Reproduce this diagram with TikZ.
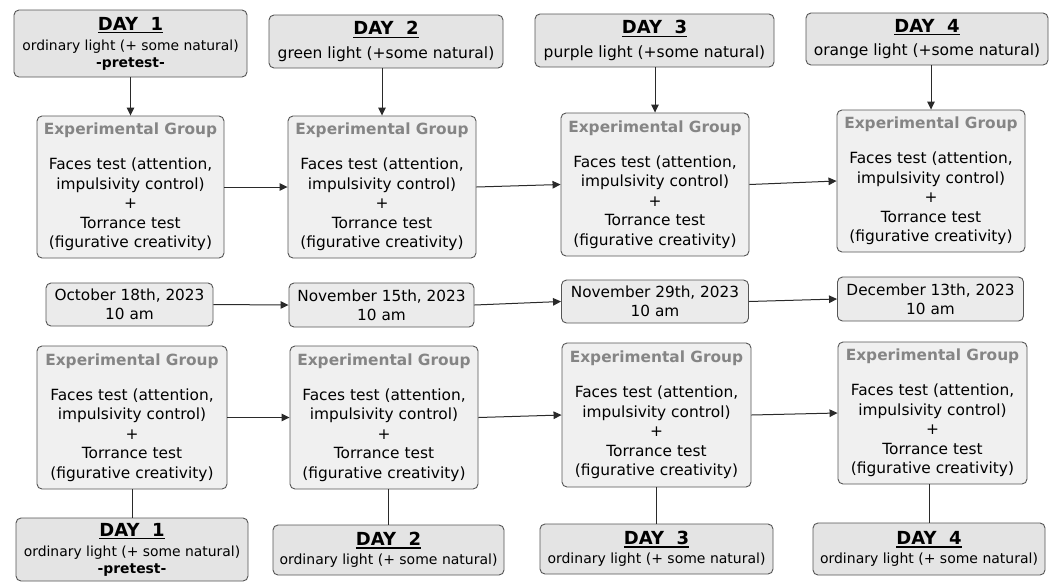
\documentclass[tikz,border=0pt]{standalone}
\usepackage{fontspec}
\setmainfont{DejaVu Sans}
\usetikzlibrary{arrows.meta}
\definecolor{boxline}{HTML}{555555}
\definecolor{dayfill}{HTML}{E4E4E4}
\definecolor{egfill}{HTML}{F0F0F0}
\definecolor{datefill}{HTML}{EBEBEB}
\definecolor{egtitle}{HTML}{858585}
\definecolor{arrline}{HTML}{2A2A2A}
\newlength\dtw
\newcommand{\daytitle}[1]{{\fontsize{18}{20}\selectfont\bfseries\settowidth{\dtw}{#1}\rlap{\rule[-3pt]{\dtw}{1.3pt}}#1}}
\newcommand{\egtext}{{\color{egtitle}\bfseries Experimental Group}\\[15.5pt]Faces test (attention,\\impulsivity control)\\+\\Torrance test\\(figurative creativity)}
\tikzset{
  box/.style={draw=boxline, line width=0.9pt, rounded corners=5pt, align=center, inner sep=0pt, text=black},
  daybox/.style={box, fill=dayfill},
  dayone/.style={daybox, font=\fontsize{13.9}{17}\selectfont},
  daycol/.style={daybox, font=\fontsize{15.5}{18.5}\selectfont},
  dayord/.style={daybox, font=\fontsize{14}{17}\selectfont},
  egbox/.style={box, fill=egfill, font=\fontsize{15.4}{19.5}\selectfont},
  datebox/.style={box, fill=datefill, font=\fontsize{15.3}{19}\selectfont},
  arr/.style={draw=arrline, line width=1pt, -{Triangle[length=8pt,width=7.5pt]}},
  ln/.style={draw=arrline, line width=1pt},
}
\begin{document}
\begin{tikzpicture}[x=1pt,y=-1pt]
\useasboundingbox[fill=white] (0,0) rectangle (1056,582);
% top row day boxes
\node[dayone, minimum width=233pt, minimum height=67pt] (day1) at (130.5,43.5) {\daytitle{DAY\ \ 1}\\[3pt]ordinary light (+ some natural)\\{\bfseries -pretest-}};
\node[daycol, minimum width=234pt, minimum height=53pt] (day2) at (386,41.5) {\daytitle{DAY\ \ 2}\\[5pt]green light (+some natural)};
\node[daycol, minimum width=239pt, minimum height=53pt] (day3) at (654.5,40.5) {\daytitle{DAY\ \ 3}\\[5pt]purple light (+some natural)};
\node[daycol, minimum width=242pt, minimum height=52pt] (day4) at (927,39) {\daytitle{DAY\ \ 4}\\[5pt]orange light (+some natural)};
% top row experimental groups
\node[egbox, minimum width=187pt, minimum height=142pt] (eg1) at (130.5,187) {\egtext};
\node[egbox, minimum width=188pt, minimum height=142pt] (eg2) at (382,187) {\egtext};
\node[egbox, minimum width=188pt, minimum height=143pt] (eg3) at (655,184.5) {\egtext};
\node[egbox, minimum width=188pt, minimum height=142pt] (eg4) at (931,181) {\egtext};
% dates
\node[datebox, minimum width=167pt, minimum height=43pt] (d1) at (129.5,304.5) {October 18th, 2023\\10 am};
\node[datebox, minimum width=185pt, minimum height=44pt] (d2) at (381.5,305) {November 15th, 2023\\10 am};
\node[datebox, minimum width=187pt, minimum height=43pt] (d3) at (655,301.5) {November 29th, 2023\\10 am};
\node[datebox, minimum width=186pt, minimum height=44pt] (d4) at (930.5,299) {December 13th, 2023\\10 am};
% bottom row experimental groups
\node[egbox, minimum width=190pt, minimum height=143pt] (eg1b) at (132,417.5) {\egtext};
\node[egbox, minimum width=188pt, minimum height=143pt] (eg2b) at (384,417.5) {\egtext};
\node[egbox, minimum width=189pt, minimum height=144pt] (eg3b) at (656.5,415) {\egtext};
\node[egbox, minimum width=189pt, minimum height=142pt] (eg4b) at (932.5,413) {\egtext};
% bottom row day boxes
\node[dayone, minimum width=232pt, minimum height=63pt] (day1b) at (132,549.5) {\daytitle{DAY\ \ 1}\\[3pt]ordinary light (+ some natural)\\{\bfseries -pretest-}};
\node[dayord, minimum width=231pt, minimum height=50pt] (day2b) at (388.5,550) {\daytitle{DAY\ \ 2}\\[2pt]ordinary light (+ some natural)};
\node[dayord, minimum width=233pt, minimum height=50pt] (day3b) at (656.5,549) {\daytitle{DAY\ \ 3}\\[2pt]ordinary light (+ some natural)};
\node[dayord, minimum width=232pt, minimum height=52pt] (day4b) at (929,549) {\daytitle{DAY\ \ 4}\\[2pt]ordinary light (+ some natural)};
% vertical arrows top
\draw[arr] (day1.south) -- (eg1.north);
\draw[arr] (eg2.north |- day2.south) -- (eg2.north);
\draw[arr] (eg3.north |- day3.south) -- (eg3.north);
\draw[arr] (eg4.north |- day4.south) -- (eg4.north);
% horizontal arrows
\draw[arr] (eg1.east) -- (eg2.west);
\draw[arr] (eg2.east) -- (eg3.west);
\draw[arr] (eg3.east) -- (eg4.west);
\draw[arr] (d1.east) -- (d2.west);
\draw[arr] (d2.east) -- (d3.west);
\draw[arr] (d3.east) -- (d4.west);
\draw[arr] (eg1b.east) -- (eg2b.west);
\draw[arr] (eg2b.east) -- (eg3b.west);
\draw[arr] (eg3b.east) -- (eg4b.west);
% bottom lines
\draw[ln] (eg1b.south) -- (eg1b.south |- day1b.north);
\draw[ln] (day2b.north |- eg2b.south) -- (day2b.north);
\draw[ln] (day3b.north |- eg3b.south) -- (day3b.north);
\draw[ln] (day4b.north |- eg4b.south) -- (day4b.north);
\end{tikzpicture}
\end{document}
